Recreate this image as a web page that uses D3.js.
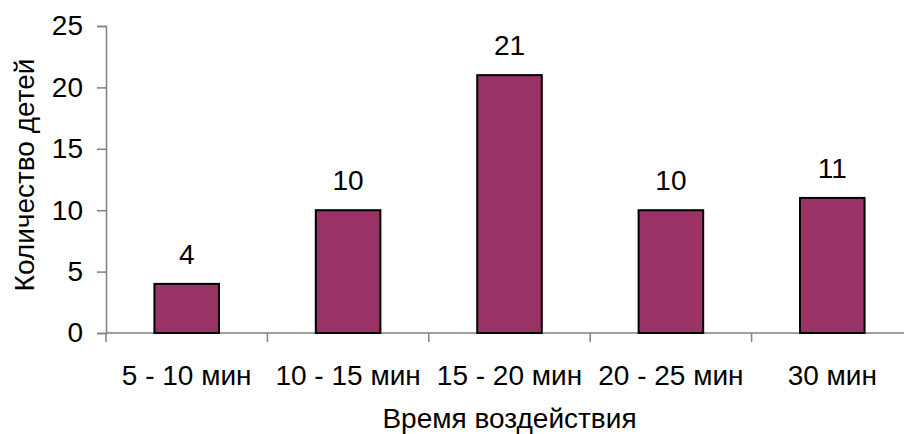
<!DOCTYPE html>
<html>
<head>
<meta charset="utf-8">
<script src="https://cdn.jsdelivr.net/npm/d3@7"></script>
<style>
  html, body { margin: 0; padding: 0; background: #fff; }
  svg { display: block; font-family: "Liberation Sans", Arial, sans-serif; }
</style>
</head>
<body>
<svg id="chart" width="904" height="434"></svg>
<script>
// Exposure time groups and number of children in each
const categories = ["5 - 10 мин", "10 - 15 мин", "15 - 20 мин", "20 - 25 мин", "30 мин"];
const counts = [4, 10, 21, 10, 11];
const yTicks = [0, 5, 10, 15, 20, 25];
const yTitle = "Количество детей";
const xTitle = "Время воздействия";

const svg = d3.select("#chart");
const plotLeft = 106, plotRight = 913, plotTop = 26, plotBottom = 333;

const x = d3.scaleBand().domain(categories).range([plotLeft, plotRight]).paddingInner(0.6).paddingOuter(0.3);
const xEdge = d3.scaleLinear().domain([0, categories.length]).range([plotLeft, plotRight]);
const y = d3.scaleLinear().domain([0, 25]).range([plotBottom, plotTop]);

const axisColor = "#808080";
const fontSize = 28;

// Y axis
const yAxis = svg.append("g").attr("transform", `translate(${plotLeft},0)`)
  .call(d3.axisLeft(y).tickValues(yTicks).tickSize(9).tickPadding(14));
yAxis.select(".domain").attr("stroke", axisColor).attr("stroke-width", 1.5);
yAxis.selectAll(".tick line").attr("stroke", axisColor).attr("stroke-width", 1.5);
yAxis.selectAll(".tick text").attr("font-size", fontSize).attr("fill", "#000")
  .attr("font-family", "Liberation Sans, Arial, sans-serif");

// X axis line with ticks at category boundaries
svg.append("line").attr("x1", plotLeft).attr("x2", 904).attr("y1", plotBottom).attr("y2", plotBottom)
  .attr("stroke", axisColor).attr("stroke-width", 1.5);
svg.append("g").selectAll("line").data(d3.range(categories.length + 1)).join("line")
  .attr("x1", d => xEdge(d)).attr("x2", d => xEdge(d))
  .attr("y1", plotBottom).attr("y2", plotBottom + 9)
  .attr("stroke", axisColor).attr("stroke-width", 1.5);

// Category labels
svg.append("g").selectAll("text").data(categories).join("text")
  .attr("x", d => x(d) + x.bandwidth() / 2)
  .attr("y", 385)
  .attr("text-anchor", "middle")
  .attr("font-size", fontSize)
  .text(d => d);

// Bars
svg.append("g").selectAll("rect").data(counts).join("rect")
  .attr("x", (d, i) => x(categories[i]))
  .attr("y", d => y(d))
  .attr("width", x.bandwidth())
  .attr("height", d => y(0) - y(d))
  .attr("fill", "#993366")
  .attr("stroke", "#000")
  .attr("stroke-width", 2);

// Value labels
svg.append("g").selectAll("text").data(counts).join("text")
  .attr("x", (d, i) => x(categories[i]) + x.bandwidth() / 2)
  .attr("y", d => y(d) - 20)
  .attr("text-anchor", "middle")
  .attr("font-size", fontSize)
  .text(d => d);

// Axis titles
svg.append("text")
  .attr("transform", "translate(34,175) rotate(-90)")
  .attr("text-anchor", "middle")
  .attr("font-size", fontSize)
  .text(yTitle);

svg.append("text")
  .attr("x", (plotLeft + plotRight) / 2).attr("y", 428)
  .attr("text-anchor", "middle")
  .attr("font-size", fontSize)
  .text(xTitle);
</script>
</body>
</html>
